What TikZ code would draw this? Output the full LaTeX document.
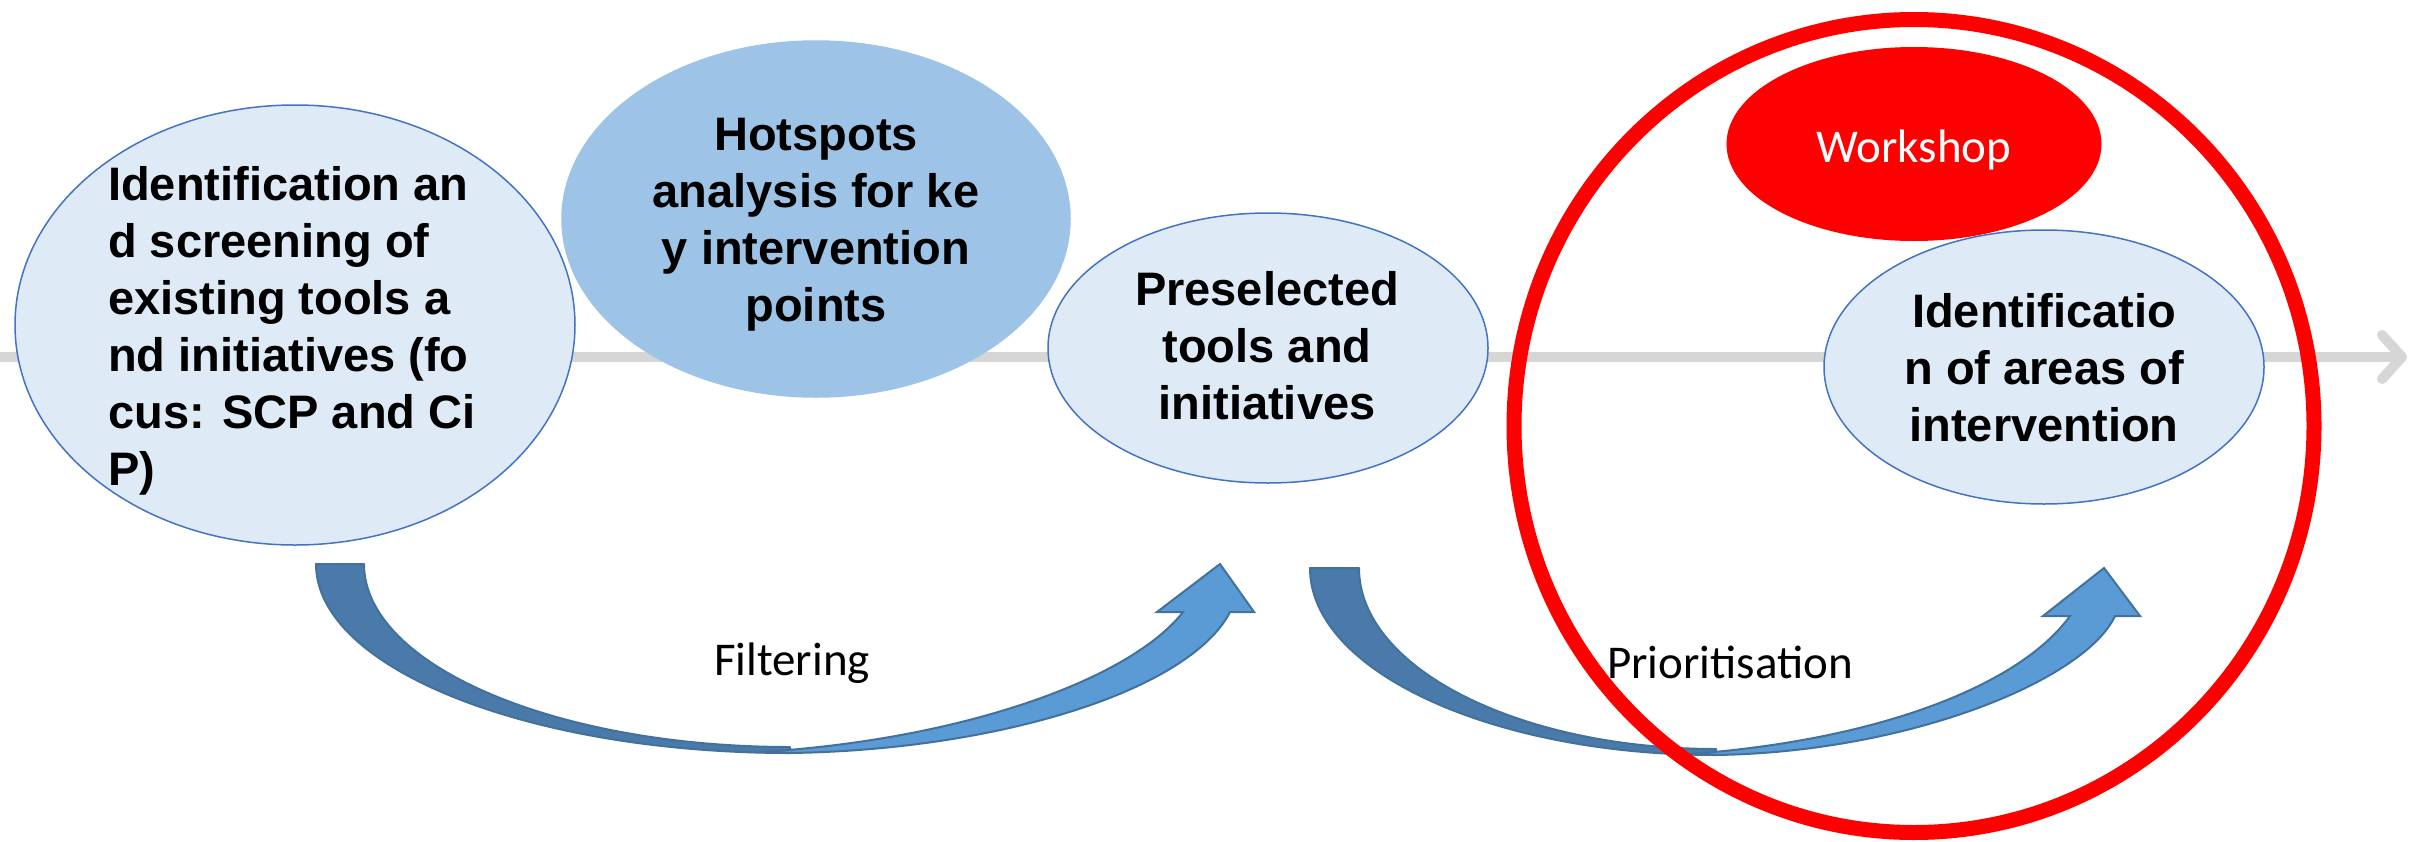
\documentclass[tikz,border=0pt]{standalone}
\usepackage{fontspec}
\usetikzlibrary{shapes.geometric}
\newfontfamily\arialf{Liberation Sans}
\newfontfamily\calib{Carlito}
\definecolor{lblue}{HTML}{DEEBF7}
\definecolor{oblue}{HTML}{4472C4}
\definecolor{hblue}{HTML}{9DC3E6}
\definecolor{alight}{HTML}{5B9BD5}
\definecolor{adark}{HTML}{4A7AAA}
\definecolor{aline}{HTML}{41719C}
\definecolor{gline}{HTML}{D6D6D6}
\definecolor{wred}{HTML}{FF0000}
\begin{document}
\begin{tikzpicture}[x=1pt,y=-1pt,
  bubble/.style={ellipse, draw=oblue, line width=1.5pt, fill=lblue, inner sep=0pt},
  boldtxt/.style={font=\arialf\bfseries\fontsize{47}{57}\selectfont, inner sep=0pt, text=black},
  lbl/.style={font=\calib\fontsize{47}{56}\selectfont, inner sep=0pt},
  blockdark/.style={fill=adark, draw=aline, line width=2pt, line join=round},
  blocklight/.style={fill=alight, draw=aline, line width=2pt, line join=miter},
  timeline/.style={draw=gline, line width=10pt}
]
\useasboundingbox (0,0) rectangle (2410,841);
\fill[white] (0,0) rectangle (2410,841);

% timeline
\coordinate (gl) at (0,357);
\coordinate (gr) at (2402,357);
\draw[timeline] (gl) -- ([xshift=-4pt]gr);
\draw[timeline, line cap=round, line join=round] ([xshift=-20pt,yshift=22pt]gr) -- (gr) -- ([xshift=-20pt,yshift=-22pt]gr);

% bubbles
\node[bubble, fill=hblue, draw=hblue, minimum width=508pt, minimum height=356pt] (e2) at (816,219) {};
\node[bubble, minimum width=560pt, minimum height=440pt] (e1) at (295,325) {};
\node[bubble, minimum width=440pt, minimum height=270pt] (e3) at (1268,348) {};
\node[ellipse, fill=wred, inner sep=0pt, minimum width=375pt, minimum height=194pt] (ws) at (1914,144) {};
\node[bubble, minimum width=440pt, minimum height=274pt] (e4) at (2044,367) {};

% curved block arrows
\path[blockdark] (316,564) .. controls (316,668) and (528,753) .. (790,753) -- (790,747) .. controls (555,747) and (364,665) .. (364,564) -- cycle;
\path[blocklight] (1183,612) -- (1157,612) -- (1220,564) -- (1254,612) -- (1230,612) .. controls (1190,690) and (1000,750) .. (790,753) -- (760,752) .. controls (960,740) and (1130,680) .. (1183,612) -- cycle;

\path[blockdark] (1310,568) .. controls (1310,671) and (1492,755) .. (1716,755) -- (1716,749) .. controls (1519,749) and (1359,668) .. (1359,568) -- cycle;
\path[blocklight] (2070,616) -- (2043,616) -- (2104,568) -- (2140,616) -- (2115,616) .. controls (2085,680) and (1910,752) .. (1716,755) -- (1690,754) .. controls (1880,740) and (2020,685) .. (2070,616) -- cycle;

% red workshop ring
\node[ellipse, draw=wred, line width=15pt, inner sep=0pt, minimum width=800pt, minimum height=813pt] (rc) at (1914,426) {};

% texts
\node[boldtxt, align=left, anchor=north west] (t1) at (108,166) {Identification an\\d screening of\\existing tools a\\nd initiatives (fo\\cus: SCP and Ci\\P)};
\node[boldtxt, align=center, anchor=north] (t2) at (816,118) {Hotspots\\analysis for ke\\y intervention\\points};
\node[boldtxt, align=center, anchor=north] (t3) at (1267,271) {Preselected\\tools and\\initiatives};
\node[boldtxt, align=center, anchor=north] (t4) at (2044,293) {Identificatio\\n of areas of\\intervention};
\node[lbl, text=white, anchor=base] (wt) at (1914,162) {Workshop};
\node[lbl, anchor=base] (lf) at (792,675) {Filtering};
\node[lbl, anchor=base] (lp) at (1730,678) {Prioritisation};
\end{tikzpicture}
\end{document}
